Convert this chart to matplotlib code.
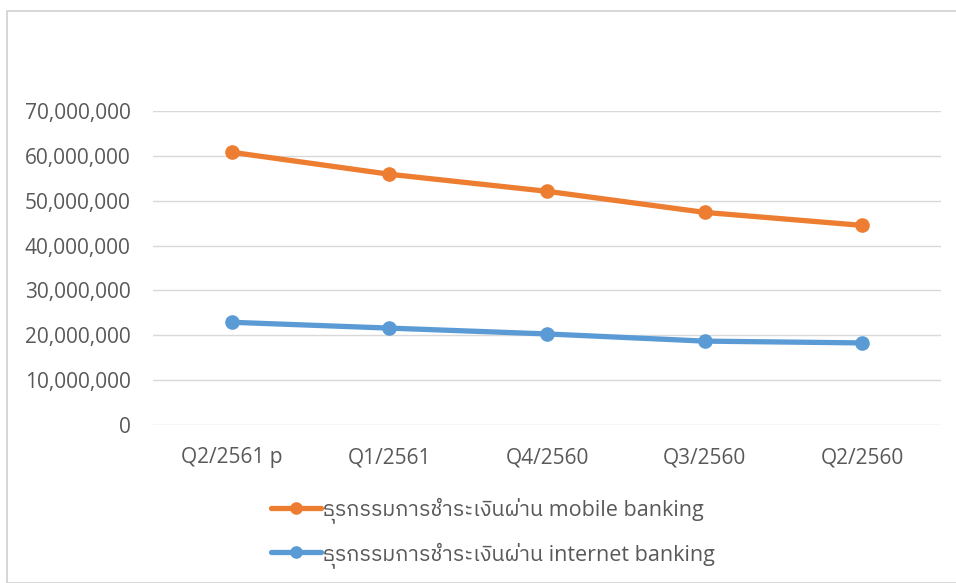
import matplotlib
matplotlib.use("Agg")
import matplotlib.pyplot as plt
from matplotlib import font_manager
from matplotlib.ticker import FuncFormatter

categories = ["Q2/2561 p", "Q1/2561", "Q4/2560", "Q3/2560", "Q2/2560"]
mobile = [60800000, 55900000, 52100000, 47400000, 44500000]
internet = [22900000, 21600000, 20300000, 18700000, 18300000]
series_names = ["ธุรกรรมการชำระเงินผ่าน mobile banking",
                "ธุรกรรมการชำระเงินผ่าน internet banking"]

names = sorted({f.name for f in font_manager.fontManager.ttflist})
thai = [n for n in names if "Thai" in n or n in ("Loma", "Garuda", "Sarabun", "Tlwg Typo", "Kinnari", "Norasi", "Waree")]
fam = ["Open Sans"] + thai + ["DejaVu Sans"]
plt.rcParams["font.family"] = fam

fig = plt.figure(figsize=(9.56, 5.83), dpi=100)
ax = fig.add_axes([153/956, 1-425/583, (941-153)/956, (425-111)/583])

x = list(range(len(categories)))
ax.plot(x, mobile, color="#ED7D31", lw=3.8, marker="o", ms=9.5, label=series_names[0], solid_capstyle="round")
ax.plot(x, internet, color="#5B9BD5", lw=3.8, marker="o", ms=9.5, label=series_names[1], solid_capstyle="round")

ax.set_xlim(-0.5, len(categories) - 0.5)
ax.set_ylim(0, 70000000)
ax.set_yticks(range(0, 70000001, 10000000))
ax.yaxis.set_major_formatter(FuncFormatter(lambda v, p: f"{int(v):,}"))
ax.set_xticks(x)
ax.set_xticklabels(categories)
ax.grid(axis="y", color="#D9D9D9", lw=1)
ax.set_axisbelow(True)
for s in ax.spines.values():
    s.set_visible(False)
ax.tick_params(length=0, labelsize=15, colors="#595959")
ax.tick_params(axis="y", pad=16)
ax.tick_params(axis="x", pad=16)

leg = fig.legend(loc="lower left", bbox_to_anchor=(252/956, -4/583), ncol=1, frameon=False,
                 fontsize=15.5, labelcolor="#595959", handlelength=2.3, handletextpad=0.1,
                 labelspacing=0.85, markerscale=0.85)

fig.patches.append(plt.Rectangle((7/956, 0), 1, 1 - 11/583, transform=fig.transFigure,
                                 fill=False, edgecolor="#D0D0D0", lw=1.2))
fig.savefig("out.png", dpi=100, facecolor="white")
